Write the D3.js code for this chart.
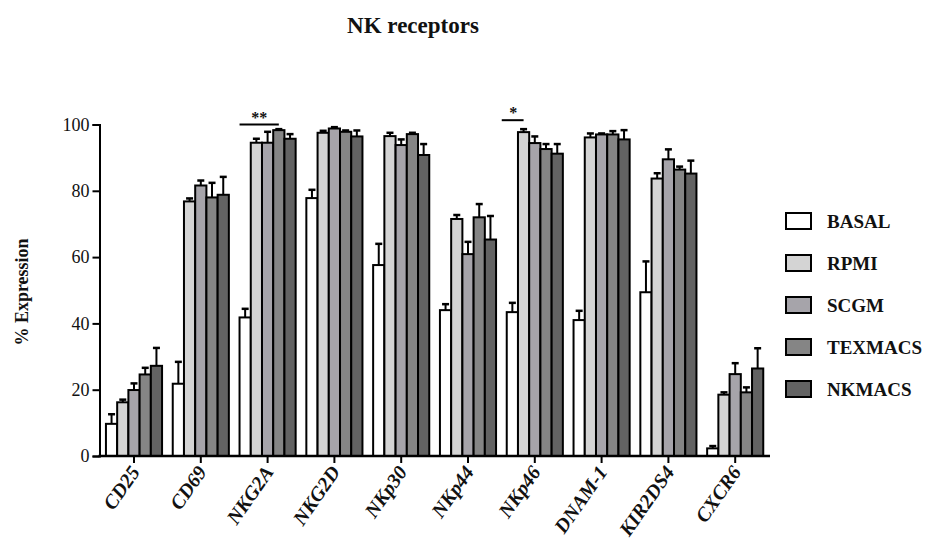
<!DOCTYPE html>
<html>
<head>
<meta charset="utf-8">
<script src="https://cdn.jsdelivr.net/npm/d3@7"></script>
<style>
  html, body { margin: 0; padding: 0; background: #fff; }
  svg { display: block; }
  text { font-family: "Liberation Serif", "Times New Roman", serif; fill: #111; }
</style>
</head>
<body>
<svg id="chart" width="932" height="543"></svg>
<script>
// ---------- data ----------
const categories = ["CD25", "CD69", "NKG2A", "NKG2D", "NKp30", "NKp44", "NKp46", "DNAM-1", "KIR2DS4", "CXCR6"];
const seriesNames = ["BASAL", "RPMI", "SCGM", "TEXMACS", "NKMACS"];

const basal      = [9.7, 21.8, 41.8, 77.8, 57.6, 44.0, 43.4, 41.0, 49.4, 2.3];
const basalErr   = [2.9, 6.6, 2.6, 2.5, 6.4, 1.8, 2.8, 2.8, 9.3, 0.7];
const rpmi       = [16.2, 76.8, 94.5, 97.5, 96.5, 71.5, 97.7, 96.1, 83.7, 18.5];
const rpmiErr    = [0.8, 0.9, 1.2, 0.6, 1.0, 1.2, 0.9, 1.2, 1.6, 0.7];
const scgm       = [19.9, 81.6, 94.5, 98.8, 93.8, 60.9, 94.4, 97.0, 89.5, 24.7];
const scgmErr    = [2.0, 1.5, 3.3, 0.4, 1.7, 3.7, 2.0, 0.3, 3.0, 3.3];
const texmacs    = [24.6, 78.0, 98.3, 97.8, 97.1, 72.0, 92.6, 97.0, 86.4, 19.2];
const texmacsErr = [2.0, 4.4, 0.3, 0.4, 0.4, 4.0, 1.5, 1.0, 0.9, 1.5];
const nkmacs     = [27.2, 78.8, 95.7, 96.4, 90.8, 65.3, 91.2, 95.5, 85.2, 26.4];
const nkmacsErr  = [5.4, 5.4, 1.4, 1.8, 3.3, 7.1, 2.9, 2.8, 3.9, 6.1];

const yTicks = [0, 20, 40, 60, 80, 100];

// significance marks: category, label, level (value), first & last series spanned
const sigCats   = ["NKG2A", "NKp46"];
const sigLabels = ["**", "*"];
const sigLevels = [100, 101.3];
const sigFrom   = ["BASAL", "BASAL"];
const sigTo     = ["TEXMACS", "RPMI"];

// ---------- build ----------
const values = [basal, rpmi, scgm, texmacs, nkmacs];
const errors = [basalErr, rpmiErr, scgmErr, texmacsErr, nkmacsErr];
const colors = ["#ffffff", "#d4d4d4", "#a6a4aa", "#858585", "#636363"];

const rows = [];
categories.forEach((c, i) => {
  seriesNames.forEach((s, j) => {
    rows.push({ cat: c, series: s, value: values[j][i], err: errors[j][i], color: colors[j] });
  });
});

const svg = d3.select("#chart");

const x = d3.scaleBand().domain(categories).range([100.6, 768.6]).paddingInner(0.16).paddingOuter(0.08);
const xs = d3.scaleBand().domain(seriesNames).range([0, x.bandwidth()]);
const y = d3.scaleLinear().domain([0, 100]).range([456, 124.5]);

// title
svg.append("text")
  .attr("x", 413).attr("y", 33)
  .attr("text-anchor", "middle")
  .style("font-size", "23px").style("font-weight", "bold")
  .text("NK receptors");

// y axis title
svg.append("text")
  .attr("transform", "translate(28,292) rotate(-90)")
  .attr("text-anchor", "middle")
  .style("font-size", "18px").style("font-weight", "bold")
  .text("% Expression");

// bars
const g = svg.append("g");
g.selectAll("rect.bar").data(rows).join("rect")
  .attr("class", "bar")
  .attr("x", d => x(d.cat) + xs(d.series))
  .attr("width", xs.bandwidth())
  .attr("y", d => y(d.value))
  .attr("height", d => y(0) - y(d.value))
  .attr("fill", d => d.color)
  .attr("stroke", "#000")
  .attr("stroke-width", 2);

// error bars (upper only)
const eb = g.selectAll("g.err").data(rows).join("g").attr("class", "err");
eb.append("line")
  .attr("x1", d => x(d.cat) + xs(d.series) + xs.bandwidth() / 2)
  .attr("x2", d => x(d.cat) + xs(d.series) + xs.bandwidth() / 2)
  .attr("y1", d => y(d.value))
  .attr("y2", d => y(d.value + d.err))
  .attr("stroke", "#000").attr("stroke-width", 2);
eb.append("line")
  .attr("x1", d => x(d.cat) + xs(d.series) + xs.bandwidth() / 2 - 3.5)
  .attr("x2", d => x(d.cat) + xs(d.series) + xs.bandwidth() / 2 + 3.5)
  .attr("y1", d => y(d.value + d.err))
  .attr("y2", d => y(d.value + d.err))
  .attr("stroke", "#000").attr("stroke-width", 2.5);

// y axis
const yAxis = d3.axisLeft(y).tickValues(yTicks).tickSize(7).tickPadding(3).tickFormat(d3.format("d"));
const ya = svg.append("g").attr("transform", "translate(99.5,0)").call(yAxis);
ya.select(".domain").attr("stroke", "#000").attr("stroke-width", 2);
ya.selectAll(".tick line").attr("stroke", "#000").attr("stroke-width", 2);
ya.selectAll(".tick text").style("font-size", "18px").style("font-family", "Liberation Serif, serif").attr("fill", "#111");

// x axis
const xAxis = d3.axisBottom(x).tickSize(7).tickSizeOuter(0).tickPadding(6);
const xa = svg.append("g").attr("transform", `translate(0,${y(0)})`).call(xAxis);
xa.select(".domain").attr("d", `M98.5,0H770`).attr("stroke", "#000").attr("stroke-width", 2.5);
xa.selectAll(".tick line").attr("stroke", "#000").attr("stroke-width", 2);
xa.selectAll(".tick text")
  .style("font-size", "20px").style("font-weight", "bold").style("font-style", "italic")
  .style("font-family", "Liberation Serif, serif").attr("fill", "#111")
  .attr("text-anchor", "end")
  .attr("transform", "translate(1,12) rotate(-55)")
  .attr("dy", "0.35em").attr("y", 0).attr("x", 0);

// significance marks
sigCats.forEach((c, i) => {
  const x1 = x(c) + xs(sigFrom[i]);
  const x2 = x(c) + xs(sigTo[i]) + xs.bandwidth() / 2;
  const yy = y(sigLevels[i]);
  svg.append("line").attr("x1", x1 - (i === 1 ? 5 : 0)).attr("x2", x2).attr("y1", yy).attr("y2", yy)
    .attr("stroke", "#000").attr("stroke-width", 2);
  svg.append("text").attr("x", (x1 + x2) / 2 - (i === 1 ? 2 : 0)).attr("y", yy - 2)
    .attr("text-anchor", "middle").style("font-size", "16px").style("font-weight", "bold")
    .text(sigLabels[i]);
});

// legend
const lg = svg.append("g");
seriesNames.forEach((s, i) => {
  const yy = 213 + i * 42;
  lg.append("rect").attr("x", 786).attr("y", yy).attr("width", 25).attr("height", 16)
    .attr("fill", colors[i]).attr("stroke", "#000").attr("stroke-width", 2);
  lg.append("text").attr("x", 827).attr("y", yy + 15)
    .style("font-size", "19px").style("font-weight", "bold").text(s);
});
</script>
</body>
</html>
